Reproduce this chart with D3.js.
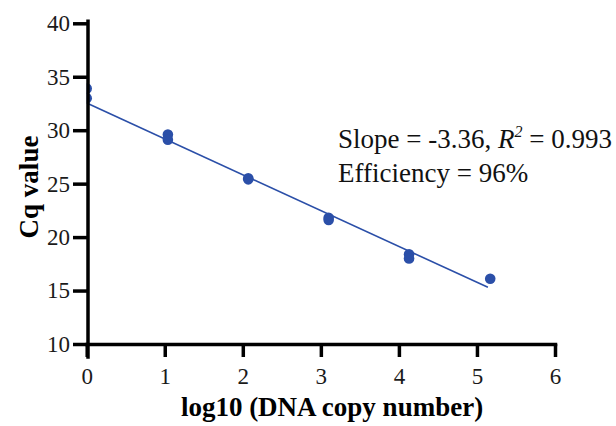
<!DOCTYPE html>
<html>
<head>
<meta charset="utf-8">
<script src="https://cdn.jsdelivr.net/npm/d3@7"></script>
<style>
  html, body { margin: 0; padding: 0; background: #fff; }
  svg { display: block; font-family: "Liberation Serif", "Times New Roman", serif; }
</style>
</head>
<body>
<svg id="chart" width="616" height="426"></svg>
<script>
// Data
const logCopies = [0, 0, 1.04, 1.04, 2.07, 2.07, 3.1, 3.1, 4.13, 4.13, 5.17];
const cqValues  = [33.9, 33.0, 29.6, 29.1, 25.5, 25.4, 21.8, 21.6, 18.4, 18.0, 16.1];
const fitX = [0, 5.14];
const fitY = [32.55, 15.3];
const xTicks = [0, 1, 2, 3, 4, 5, 6];
const yTicks = [10, 15, 20, 25, 30, 35, 40];
const annotation1 = ["Slope = -3.36, ", "R", "2", " = 0.993"];
const annotation2 = "Efficiency = 96%";
const xTitle = "log10 (DNA copy number)";
const yTitle = "Cq value";

const svg = d3.select("#chart");
const blue = "#2b4fa8";

const x = d3.scaleLinear().domain([0, 6]).range([86.7, 555]);
const y = d3.scaleLinear().domain([10, 40]).range([344, 23.3]);

// clip so points at x=0 only show right of axis
svg.append("defs").append("clipPath").attr("id", "plotclip")
  .append("rect").attr("x", x(0)).attr("y", 0).attr("width", 560).attr("height", 344);

const plot = svg.append("g").attr("clip-path", "url(#plotclip)");

plot.append("line")
  .attr("x1", x(fitX[0])).attr("y1", y(fitY[0]))
  .attr("x2", x(fitX[1])).attr("y2", y(fitY[1]))
  .attr("stroke", blue).attr("stroke-width", 1.6);

plot.selectAll("circle").data(logCopies.map((d, i) => [d, cqValues[i]]))
  .enter().append("circle")
  .attr("cx", d => x(d[0])).attr("cy", d => y(d[1]))
  .attr("r", 5.3).attr("fill", blue);

// Axes
const xAxis = d3.axisBottom(x).tickValues(xTicks).tickFormat(d3.format("d"))
  .tickSize(13).tickSizeOuter(0).tickPadding(11);
const yAxis = d3.axisLeft(y).tickValues(yTicks).tickFormat(d3.format("d"))
  .tickSize(15).tickSizeOuter(0).tickPadding(3);

const gx = svg.append("g").attr("transform", `translate(0,${y(10)})`).call(xAxis);
const gy = svg.append("g").attr("transform", `translate(${x(0) + 1.3},0)`).call(yAxis);

[gx, gy].forEach(g => {
  g.select(".domain").attr("stroke", "#000").attr("stroke-width", 3.5).attr("stroke-linecap", "square");
  g.selectAll(".tick line").attr("stroke", "#000").attr("stroke-width", 3.5);
  g.selectAll(".tick text").attr("fill", "#1a1a1a").style("font-size", "23px")
    .style("font-family", "'Liberation Serif', 'Times New Roman', serif");
});
gy.select(".domain").attr("d", `M0,${y(40) - 2}V${y(10) + 13}`);

// Axis titles
svg.append("text")
  .attr("x", 332).attr("y", 416)
  .attr("text-anchor", "middle")
  .style("font-size", "27px").style("font-weight", "bold")
  .text(xTitle);

svg.append("text")
  .attr("transform", "translate(38,187) rotate(-90)")
  .attr("text-anchor", "middle")
  .style("font-size", "27px").style("font-weight", "bold")
  .text(yTitle);

// Annotation
const t1 = svg.append("text").attr("x", 338).attr("y", 148).style("font-size", "27px").attr("fill", "#111");
t1.append("tspan").text(annotation1[0]);
t1.append("tspan").style("font-style", "italic").text(annotation1[1]);
t1.append("tspan").attr("dy", -11).style("font-size", "16px").style("font-style", "italic").text(annotation1[2]);
t1.append("tspan").attr("dy", 11).text(annotation1[3]);

svg.append("text").attr("x", 338).attr("y", 182).style("font-size", "27px").attr("fill", "#111")
  .text(annotation2);
</script>
</body>
</html>
